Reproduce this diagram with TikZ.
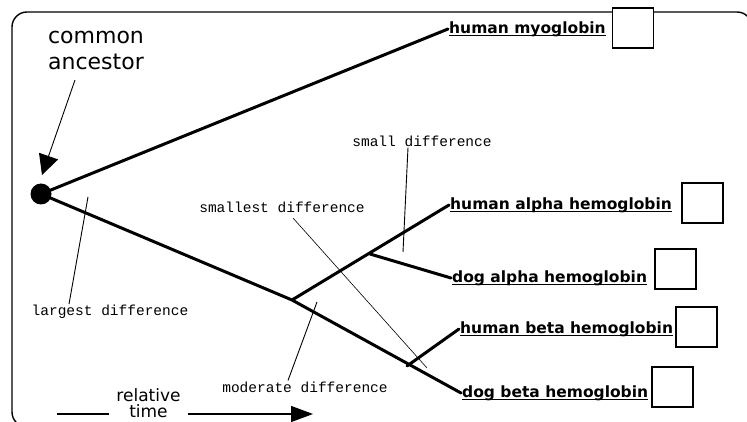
\documentclass[tikz,border=0pt]{standalone}
\usepackage{fontspec}
\usetikzlibrary{arrows.meta, positioning}

\newfontfamily\leaffont{DejaVu Sans}
\newfontfamily\notefont{Liberation Mono}
\newfontfamily\headfont{DejaVu Sans}

% underline that cuts through the descenders
\newcommand{\leafline}[1]{\setbox0\hbox{#1}\rlap{\rule[-3pt]{\wd0}{1.3pt}}\box0}

\begin{document}
\begin{tikzpicture}[x=1pt, y=-1pt,
	branch/.style={line width=3pt, line cap=round},
	pointer/.style={line width=0.9pt},
	leaf/.style={anchor=west, inner sep=1pt, font=\leaffont\bfseries\fontsize{15.5}{16}\selectfont},
	note/.style={inner sep=1pt, font=\notefont\fontsize{14.5}{15}\selectfont},
	answer/.style={draw, line width=1.3pt, fill=white, minimum width=41pt, minimum height=40pt, inner sep=0pt}]
	
	% parameters
	\def\rdot{10.5pt}     % radius of the ancestor dot
	\def\oline{1.4pt}     % frame thickness
	
	\useasboundingbox (0,0) rectangle (747,422);
	
	% frame (runs off the page on the right and below)
	\draw[line width=\oline, rounded corners=15pt] (12,12) rectangle (752,427);
	
	% ancestor and inner branch points
	\node[circle, fill, minimum size=2*\rdot, inner sep=0pt] (root) at (41,194) {};
	\coordinate (mid) at (292,300);
	\coordinate (alphasplit) at (370,254);
	\coordinate (betasplit) at (407,366);
	
	% leaves
	\node[leaf] (myo) at (448,29) {\leafline{human myoglobin}};
	\node[leaf] (hah) at (449,205) {\leafline{human alpha hemoglobin}};
	\node[leaf] (dah) at (451,278) {\leafline{dog alpha hemoglobin}};
	\node[leaf] (hbh) at (459,329) {\leafline{human beta hemoglobin}};
	\node[leaf] (dbh) at (461,393) {\leafline{dog beta hemoglobin}};
	
	% answer boxes
	\node[answer] (boxmyo) at (633,28) {};
	\node[answer] (boxhah) at (702.5,203) {};
	\node[answer] (boxdah) at (675.5,269) {};
	\node[answer] (boxhbh) at (696.5,327) {};
	\node[answer] (boxdbh) at (672.5,387) {};
	
	% tree
	\draw[branch] (root.center) -- (myo.west);
	\draw[branch] (root.center) -- (mid) -- (dbh.west);
	\draw[branch] (mid) -- (hah.west);
	\draw[branch] (alphasplit) -- (dah.west);
	\draw[branch] (betasplit) -- (hbh.west);
	
	% common ancestor
	\node[font=\headfont\fontsize{22}{26}\selectfont, align=center] (anc) at (96,50) {common\\ancestor};
	\coordinate (ancfoot) at (75,80);
	\coordinate (anctip) at (42,175);
	\draw[pointer, -{Triangle[length=20pt, width=20pt]}] (ancfoot) -- (anctip);
	
	% difference notes
	\node[note] (small) at (422,141) {small difference};
	\node[note] (smallest) at (282,207) {smallest difference};
	\node[note] (largest) at (110,312) {largest difference};
	\node[note] (moderate) at (305,387) {moderate difference};
	
	\coordinate (smalltip) at (403,252);
	\coordinate (smallesttip) at (427,368);
	\coordinate (largesttip) at (88,197);
	\coordinate (moderatetip) at (317,302);
	\draw[pointer] (small.south -| 408,0) -- (smalltip);
	\draw[pointer, line width=0.6pt] (293,218) -- (smallesttip);
	\draw[pointer] (largest.north -| 69,0) -- (largesttip);
	\draw[pointer] (moderate.north -| 288,0) -- (moderatetip);
	
	% time axis
	\node[font=\headfont\fontsize{17}{16}\selectfont, align=center, inner xsep=7pt] (reltime) at (148.5,403) {relative\\time};
	\coordinate (tstart) at (57,414);
	\coordinate (tend) at (313,414);
	\draw[line width=1.3pt] (tstart) -- (tstart -| reltime.west);
	\draw[line width=1.3pt, -{Triangle[length=22pt, width=16pt]}] (tend -| reltime.east) -- (tend);
	
\end{tikzpicture}
\end{document}
